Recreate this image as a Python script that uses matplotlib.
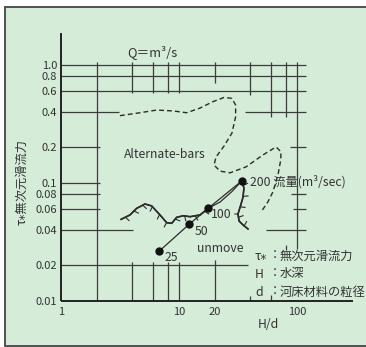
import matplotlib
matplotlib.use('Agg')
import matplotlib.pyplot as plt
from matplotlib import patheffects
from matplotlib.patches import Rectangle

plt.rcParams['font.family'] = ['Noto Sans CJK JP', 'DejaVu Sans']

W, H = 366, 347
INK = '#2b2b2b'
PAPER = '#d5ecd9'

# tick labels
yticks = [1.0, 0.8, 0.6, 0.4, 0.2, 0.1, 0.08, 0.06, 0.04, 0.02, 0.01]
ytick_labels = ['1.0', '0.8', '0.6', '0.4', '0.2', '0.1', '0.08', '0.06', '0.04', '0.02', '0.01']
xticks = [1, 10, 20, 100]
xtick_labels = ['1', '10', '20', '100']

# observed discharges (H/d, tau*)
q_labels = ['25', '50', '100', '200']
q_hd = [6.81, 12.2, 17.7, 34.0]
q_tau = [0.0265, 0.0447, 0.0611, 0.104]

# alternate-bars region boundary
alt_hd = [3.16, 4.67, 6.47, 8.9, 11.6, 15.1, 19.4, 24.1, 28.0, 30.2, 30.2, 28.1, 24.1,
          20.6, 19.8, 22.3, 27.1, 37.0, 51.5, 66.4, 73.2, 72.8, 69.0, 62.6, 56.8, 49.8]
alt_tau = [0.372, 0.394, 0.415, 0.408, 0.394, 0.432, 0.489, 0.531, 0.522, 0.458, 0.365, 0.265, 0.206,
           0.166, 0.142, 0.126, 0.122, 0.137, 0.173, 0.202, 0.184, 0.157, 0.117, 0.0844, 0.0695, 0.0571]

# movement threshold, left branch up to Q=100
mv_hd = [3.23, 3.84, 4.38, 5.15, 5.87, 6.90, 7.87, 8.67, 9.56, 10.9, 12.4, 15.1, 17.7]
mv_tau = [0.0492, 0.0536, 0.0610, 0.0664, 0.0639, 0.0536, 0.0461, 0.0455, 0.0512, 0.0528, 0.0518, 0.0536, 0.0611]
# second strand between Q=100 and Q=200
lens_hd = [17.7, 22.3, 28.1, 34.0]
lens_tau = [0.0611, 0.0690, 0.0847, 0.104]
# right branch, bottom up to Q=200
rb_hd = [38.4, 34.9, 32.3, 31.6, 33.2, 34.9, 35.5, 34.0]
rb_tau = [0.0408, 0.0441, 0.0476, 0.0546, 0.0639, 0.0761, 0.0907, 0.104]

# partial rulings of the log paper: (value, start, end)
h_rules = [(1.0, 1, 120), (0.8, 1, 120), (0.6, 1, 120), (0.4, 1, 3.1), (0.4, 36, 120),
           (0.2, 1, 2.14), (0.2, 87, 120), (0.1, 1, 2.14), (0.08, 1, 2.14), (0.08, 89, 120),
           (0.06, 1, 2.14), (0.06, 92, 120), (0.04, 1, 4.07), (0.04, 55, 120), (0.02, 1, 38.4)]
v_rules = [(2, 0.01, 1.07), (4, 0.58, 1.05), (6, 0.58, 1.05), (8, 0.58, 1.05), (10, 0.58, 1.05),
           (20, 0.70, 1.05), (40, 0.56, 1.05), (60, 0.362, 1.05), (80, 0.362, 1.05),
           (100, 0.0276, 1.05), (4, 0.01, 0.0214), (6, 0.01, 0.0214), (8, 0.01, 0.0214),
           (10, 0.01, 0.0214), (20, 0.01, 0.0223), (40, 0.01, 0.011), (60, 0.01, 0.0112),
           (80, 0.0272, 0.0298)]

fig = plt.figure(figsize=(W / 100, H / 100), dpi=100, facecolor='white')
fig.add_artist(Rectangle((5 / W, 0.7 / H), 370 / W, (340 - 0.7) / H, transform=fig.transFigure,
                         facecolor=PAPER, edgecolor='#444444', lw=1.3, zorder=0))

ax = fig.add_axes([61 / W, 46 / H, 300 / W, 271 / H])
ax.set_xscale('log')
ax.set_yscale('log')
ax.set_xlim(1, 10 ** (300 / 118))
ax.set_ylim(0.01, 0.01 * 10 ** (271 / 118))
ax.patch.set_visible(False)
for s in ax.spines.values():
    s.set_visible(False)
ax.minorticks_off()
ax.set_xticks(xticks, xtick_labels)
ax.set_yticks(yticks, ytick_labels)
ax.tick_params(length=0, labelsize=8, colors='#333333')
ax.tick_params(axis='y', pad=2.9)
ax.tick_params(axis='x', pad=4.5)

for v, a, b in h_rules:
    ax.hlines(v, a, b, color='#3c3c3c', lw=0.9, clip_on=False)
for v, a, b in v_rules:
    ax.vlines(v, a, b, color='#3c3c3c', lw=0.9, clip_on=False)
# axis lines
ax.hlines(0.01, 1, 297, color='#222222', lw=1.4, clip_on=False)
ax.vlines(1, 0.01, 1.87, color='#222222', lw=1.4, clip_on=False)

ax.plot(alt_hd, alt_tau, color=INK, lw=1.0, ls=(0, (3.5, 2.2)), clip_on=False)

ticked_down = [patheffects.withTickedStroke(spacing=7, angle=-70, length=0.5, linewidth=0.8),
               patheffects.Normal()]
ticked_right = [patheffects.withTickedStroke(spacing=7, angle=-80, length=0.5, linewidth=0.8),
                patheffects.Normal()]
ax.plot(mv_hd, mv_tau, color=INK, lw=1.1, path_effects=ticked_down)
ax.plot(lens_hd, lens_tau, color=INK, lw=0.9)
ax.plot(rb_hd, rb_tau, color=INK, lw=1.1, path_effects=ticked_right)

ax.plot(q_hd, q_tau, color=INK, lw=0.9, marker='o', ms=5, mfc='#111111', mec='#111111')

lab = dict(fontsize=8.8, color='#333333', va='center')
ax.annotate(q_labels[0], (q_hd[0], q_tau[0]), xytext=(12, -6), textcoords='offset pixels', ha='center', **lab)
ax.annotate(q_labels[1], (q_hd[1], q_tau[1]), xytext=(12, -7), textcoords='offset pixels', ha='center', **lab)
ax.annotate(q_labels[2], (rb_hd[3], rb_tau[3]), xytext=(-6, 0), textcoords='offset pixels', ha='right',
            arrowprops=dict(arrowstyle='-', color=INK, lw=0.8, shrinkA=0, shrinkB=0), **lab)
ax.annotate(q_labels[3] + ' 流量(m³/sec)', (q_hd[3], q_tau[3]), xytext=(8, -1),
            textcoords='offset pixels', ha='left', **lab)

def ftext(x, y, s, **kw):
    kw.setdefault('fontsize', 8.8)
    kw.setdefault('color', '#333333')
    kw.setdefault('va', 'center')
    fig.text(x / W, 1 - y / H, s, **kw)

ftext(152, 52, 'Q＝m³/s', ha='center', fontsize=9.2)
ftext(165, 154, 'Alternate-bars', ha='center')
ftext(220, 249, 'unmove', ha='center')
ftext(268, 325, 'H/d', ha='center')
ftext(22, 182, 'τ⁎無次元滑流力', ha='center', rotation=90)

ftext(255, 256, 'τ⁎', ha='left')
ftext(255, 274, 'H', ha='left')
ftext(255, 292, 'd', ha='left')
for yy in (256, 274, 292):
    ftext(275, yy, '：', ha='center')
ftext(280, 256, '無次元滑流力', ha='left')
ftext(280, 274, '水深', ha='left')
ftext(280, 292, '河床材料の粒径', ha='left')

fig.savefig('out.png', dpi=100, facecolor='white')
